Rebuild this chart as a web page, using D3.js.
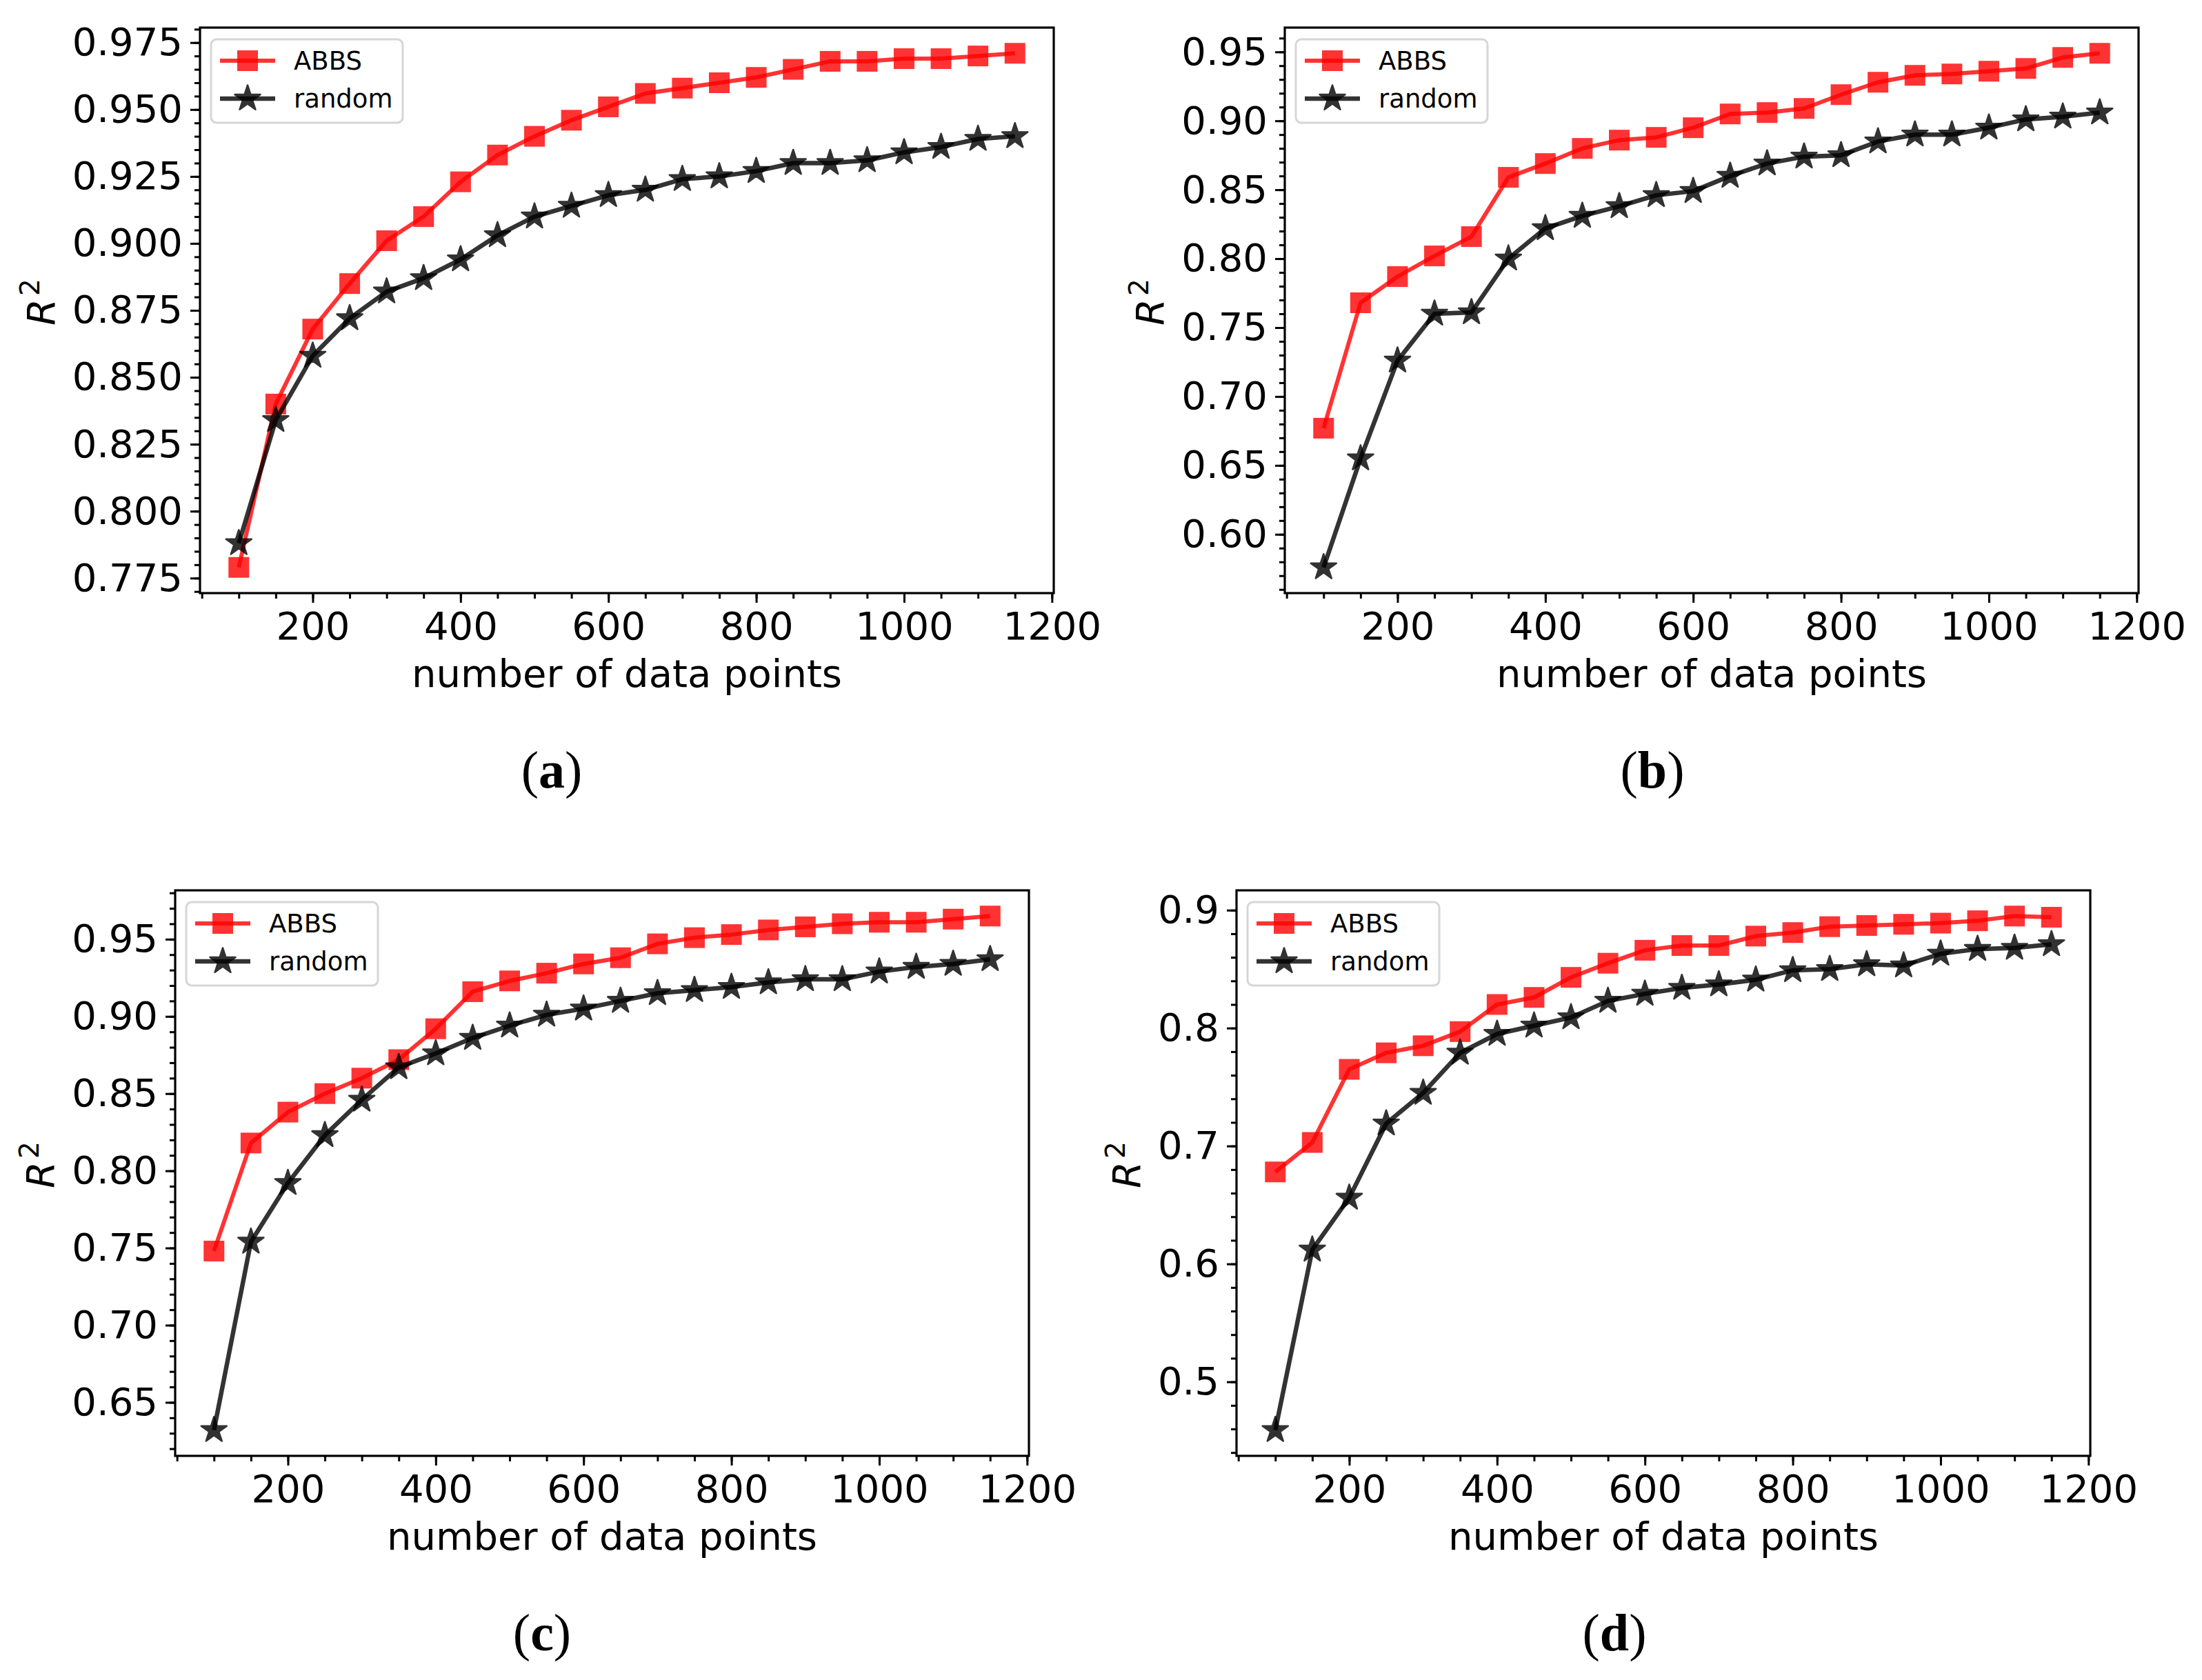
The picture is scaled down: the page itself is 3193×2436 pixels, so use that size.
<!DOCTYPE html>
<html>
<head>
<meta charset="utf-8">
<script src="https://cdn.jsdelivr.net/npm/d3@7"></script>
<style>
  body { margin: 0; background: #fff; }
  svg { display: block; }
</style>
</head>
<body>
<svg id="fig" width="3193" height="2436"></svg>
<script>
// x values (number of data points) shared by all four panels
const sizes = [100,150,200,250,300,350,400,450,500,550,600,650,700,750,800,850,900,950,1000,1050,1100,1150];

// R^2 values
const abbsA   = [0.779,0.840,0.868,0.885,0.901,0.910,0.923,0.933,0.940,0.946,0.951,0.956,0.958,0.960,0.962,0.965,0.968,0.968,0.969,0.969,0.970,0.971];
const randomA = [0.788,0.834,0.858,0.872,0.882,0.887,0.894,0.903,0.910,0.914,0.918,0.920,0.924,0.925,0.927,0.930,0.930,0.931,0.934,0.936,0.939,0.940];
const abbsB   = [0.677,0.768,0.787,0.802,0.816,0.859,0.869,0.880,0.886,0.888,0.895,0.905,0.906,0.909,0.919,0.928,0.933,0.934,0.936,0.938,0.946,0.949];
const randomB = [0.576,0.655,0.726,0.760,0.761,0.800,0.822,0.831,0.838,0.846,0.849,0.860,0.869,0.874,0.875,0.885,0.890,0.890,0.895,0.901,0.903,0.906];
const abbsC   = [0.748,0.818,0.838,0.850,0.860,0.872,0.892,0.916,0.923,0.928,0.934,0.938,0.947,0.951,0.953,0.956,0.958,0.960,0.961,0.961,0.963,0.965];
const randomC = [0.632,0.754,0.792,0.823,0.846,0.867,0.876,0.886,0.894,0.901,0.905,0.910,0.915,0.917,0.919,0.922,0.924,0.924,0.929,0.932,0.934,0.937];
const abbsD   = [0.678,0.703,0.765,0.779,0.785,0.797,0.820,0.826,0.843,0.855,0.866,0.870,0.870,0.878,0.881,0.886,0.887,0.888,0.889,0.891,0.895,0.894];
const randomD = [0.459,0.612,0.656,0.719,0.745,0.779,0.795,0.802,0.809,0.823,0.829,0.834,0.837,0.841,0.849,0.850,0.854,0.853,0.863,0.867,0.868,0.871];

// tick labels
const xTicks  = [200,400,600,800,1000,1200];
const yTicksA = [0.775,0.800,0.825,0.850,0.875,0.900,0.925,0.950,0.975];
const yTicksB = [0.60,0.65,0.70,0.75,0.80,0.85,0.90,0.95];
const yTicksC = [0.65,0.70,0.75,0.80,0.85,0.90,0.95];
const yTicksD = [0.5,0.6,0.7,0.8,0.9];

const seriesNames = ["ABBS", "random"];
const captions = ["a", "b", "c", "d"];

// layout
const W = 1238, H = 820;
const FONT = "DejaVu Sans";
const panels = [
  {left: 290,  top: 40,   abbs: abbsA, random: randomA, yTicks: yTicksA, fmt: ".3f", minor: 0.005, capX: 800,  capY: 1142},
  {left: 1863, top: 40,   abbs: abbsB, random: randomB, yTicks: yTicksB, fmt: ".2f", minor: 0.01,  capX: 2396, capY: 1142},
  {left: 254,  top: 1291, abbs: abbsC, random: randomC, yTicks: yTicksC, fmt: ".2f", minor: 0.01,  capX: 786,  capY: 2393},
  {left: 1793, top: 1291, abbs: abbsD, random: randomD, yTicks: yTicksD, fmt: ".1f", minor: 0.02,  capX: 2341, capY: 2393}
];

const svg = d3.select("#fig");

// matplotlib style star marker
function starPath(R){
  let r = R * 0.381966, pts = [];
  for (let i = 0; i < 10; i++){
    let a = Math.PI / 5 * i - Math.PI / 2;
    let rr = i % 2 ? r : R;
    pts.push([rr * Math.cos(a), rr * Math.sin(a)]);
  }
  return "M" + pts.map(p => p[0].toFixed(2) + "," + p[1].toFixed(2)).join("L") + "Z";
}
const STAR = starPath(19.5);

function squareMark(sel){
  sel.append("rect")
    .attr("x", -15).attr("y", -15)
    .attr("width", 30).attr("height", 30)
    .attr("fill", "#ff0000").attr("fill-opacity", 0.8);
}
function starMark(sel){
  sel.append("path")
    .attr("d", STAR)
    .attr("fill", "#000").attr("opacity", 0.8)
    .attr("stroke", "#000").attr("stroke-width", 2.5).attr("stroke-linejoin", "round");
}

panels.forEach(function(p, i){
  let g = svg.append("g").attr("transform", `translate(${p.left},${p.top})`);

  let x = d3.scaleLinear().domain([47.5, 1202.5]).range([0, W]);
  let all = p.abbs.concat(p.random);
  let lo = d3.min(all), hi = d3.max(all), m = (hi - lo) * 0.05;
  let y = d3.scaleLinear().domain([lo - m, hi + m]).range([H, 0]);

  // minor ticks
  let xMinor = d3.range(50, 1201, 50);
  let yMinor = d3.range(Math.ceil(y.domain()[0] / p.minor), Math.floor(y.domain()[1] / p.minor) + 1)
    .map(k => +(k * p.minor).toFixed(4));

  let styleAxis = function(a, fs){
    a.select(".domain").remove();
    a.selectAll("line").attr("stroke", "#000").attr("stroke-width", 3);
    a.selectAll("text").attr("font-family", FONT).attr("font-size", fs).attr("fill", "#000");
  };

  g.append("g").attr("transform", `translate(0,${H})`)
    .call(d3.axisBottom(x).tickValues(xMinor).tickSize(8).tickFormat(""))
    .call(a => styleAxis(a, 0));
  g.append("g").attr("transform", `translate(0,${H})`)
    .call(d3.axisBottom(x).tickValues(xTicks).tickSize(14).tickPadding(13).tickFormat(d3.format("d")))
    .call(a => styleAxis(a, 56));

  g.append("g")
    .call(d3.axisLeft(y).tickValues(yMinor).tickSize(8).tickFormat(""))
    .call(a => styleAxis(a, 0));
  let yAx = g.append("g")
    .call(d3.axisLeft(y).tickValues(p.yTicks).tickSize(14).tickPadding(11).tickFormat(d3.format(p.fmt)))
    .call(a => styleAxis(a, 56));

  // spines
  g.append("rect")
    .attr("x", 0).attr("y", 0).attr("width", W).attr("height", H)
    .attr("fill", "none").attr("stroke", "#000").attr("stroke-width", 3.2);

  // series
  let line = d3.line().x((d, k) => x(sizes[k])).y(d => y(d));
  [p.abbs, p.random].forEach(function(vals, s){
    g.append("path")
      .datum(vals)
      .attr("d", line)
      .attr("fill", "none")
      .attr("stroke", s == 0 ? "#ff0000" : "#000")
      .attr("stroke-opacity", 0.8)
      .attr("stroke-width", s == 0 ? 6 : 6.5)
      .attr("stroke-linejoin", "round");
    g.append("g").selectAll("g")
      .data(vals)
      .join("g")
        .attr("transform", (d, k) => `translate(${x(sizes[k])},${y(d)})`)
        .each(function(){ (s == 0 ? squareMark : starMark)(d3.select(this)); });
  });

  // legend
  let lg = g.append("g").attr("transform", "translate(16,17)");
  lg.append("rect")
    .attr("width", 278).attr("height", 121).attr("rx", 8)
    .attr("fill", "#fff").attr("fill-opacity", 0.8)
    .attr("stroke", "#d6d6d6").attr("stroke-width", 3);
  seriesNames.forEach(function(name, s){
    let cy = 31 + s * 55;
    lg.append("line")
      .attr("x1", 13).attr("x2", 93).attr("y1", cy).attr("y2", cy)
      .attr("stroke", s == 0 ? "#ff0000" : "#000")
      .attr("stroke-opacity", 0.8).attr("stroke-width", s == 0 ? 6 : 6.5);
    let mk = lg.append("g").attr("transform", `translate(53,${cy})`);
    (s == 0 ? squareMark : starMark)(mk);
    lg.append("text")
      .attr("x", 120).attr("y", cy + 13)
      .attr("font-family", FONT).attr("font-size", 37)
      .text(name);
  });

  // y label R^2, placed left of the tick labels
  let bb = yAx.node().getBBox();
  let lx = bb.x - 26;
  let yl = g.append("text")
    .attr("transform", `translate(${lx},${H / 2 - 12}) rotate(-90)`)
    .attr("text-anchor", "middle")
    .attr("font-family", FONT).attr("font-size", 56);
  yl.append("tspan").attr("font-style", "italic").text("R");
  yl.append("tspan").attr("font-size", 39).attr("dy", -22).attr("dx", 4).text("2");

  // x label
  g.append("text")
    .attr("x", W / 2).attr("y", H + 136)
    .attr("text-anchor", "middle")
    .attr("font-family", FONT).attr("font-size", 56)
    .text("number of data points");

  // caption
  let cap = svg.append("text")
    .attr("x", p.capX).attr("y", p.capY)
    .attr("text-anchor", "middle")
    .attr("font-family", "Liberation Serif").attr("font-size", 76);
  cap.append("tspan").text("(");
  cap.append("tspan").attr("font-weight", "bold").text(captions[i]);
  cap.append("tspan").text(")");
});
</script>
</body>
</html>
